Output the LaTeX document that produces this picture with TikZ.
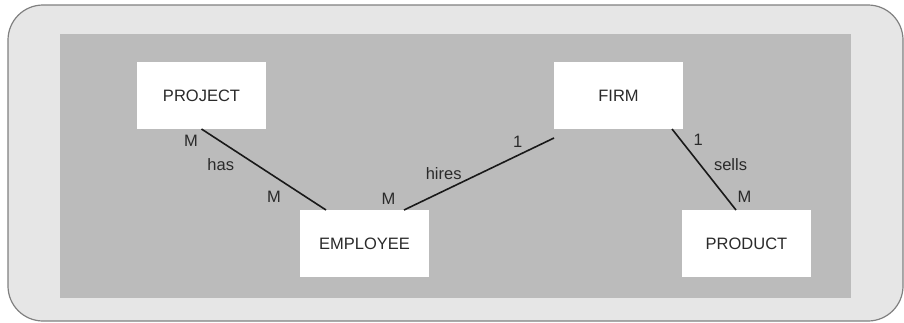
\documentclass[tikz,border=0pt]{standalone}
\usepackage{fontspec}
\setmainfont{Liberation Sans}
\usetikzlibrary{positioning}

\definecolor{framegray}{HTML}{E6E6E6}
\definecolor{panelgray}{HTML}{BBBBBB}
\definecolor{inkgray}{HTML}{2A2A2A}

\begin{document}
\begin{tikzpicture}[x=1pt,y=-1pt,font=\fontsize{16.5}{19}\selectfont,
	line width=1.6pt,text=inkgray,
	entity node/.style={rectangle,fill=white,minimum width=129pt,minimum height=67pt,inner sep=0pt,outer sep=0pt},
	card/.style={inner sep=0pt}]
	
	\useasboundingbox (0,0) rectangle (904,322);
	\draw[draw=gray,fill=framegray,line width=1.2pt,rounded corners=35pt] (8,5) rectangle (903,321);
	\fill[panelgray] (60,34) rectangle (851,298);
	
	\node[entity node] (project) at (201.5,95.5) {PROJECT};
	\node[entity node] (firm) [right=288pt of project] {FIRM};
	\node[entity node] (employee) [below right=81pt and 34pt of project] {EMPLOYEE};
	\node[entity node] (product) [below right=81pt and -1pt of firm] {PRODUCT};
	
	\path[draw=black!90,every node/.style={card}]
	(project.south) edge node [pos=0.148,xshift=-29pt] {M}
	                     node [pos=0.444,xshift=-36pt] {has}
	                     node [pos=0.84,xshift=-32pt] {M} ([xshift=26pt]employee.north west)
	([xshift=-25pt]employee.north east) edge node [pos=0.156,xshift=-39pt] {M}
	                     node [pos=0.511,xshift=-37pt] {hires}
	                     node [pos=0.944,xshift=-28pt] {1} ([yshift=-9pt]firm.south west)
	([xshift=-11pt]firm.south east) edge node [pos=0.136,xshift=17.6pt] {1}
	                     node [pos=0.438,xshift=30.5pt] {sells}
	                     node [pos=0.836,xshift=19pt] {M} ([xshift=54pt]product.north west);
\end{tikzpicture}
\end{document}
